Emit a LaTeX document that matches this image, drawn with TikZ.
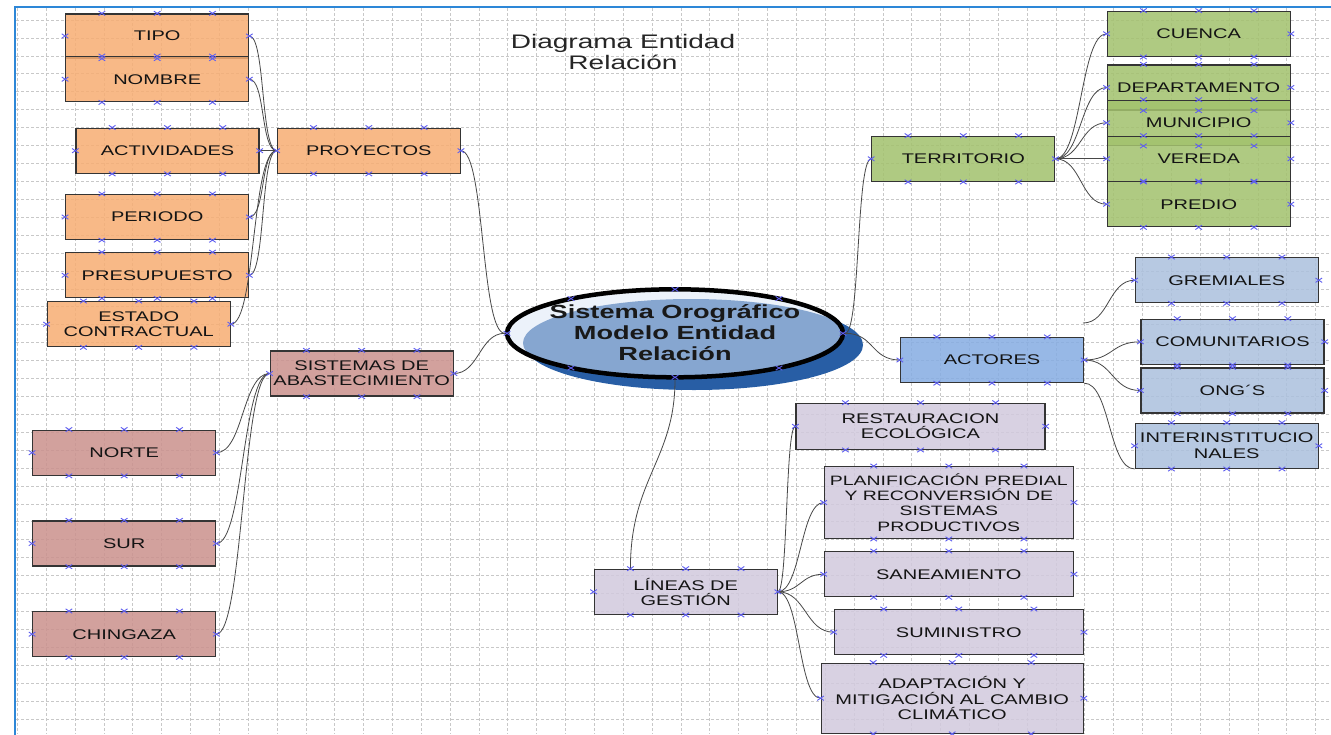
\documentclass[tikz,border=0pt]{standalone}
\usepackage{fontspec}
\setmainfont{Liberation Sans}[FakeStretch=1.43]
\usetikzlibrary{calc,shapes.geometric}

\definecolor{orangebox}{RGB}{247,174,116}
\definecolor{rosebox}{RGB}{203,146,142}
\definecolor{greenbox}{RGB}{163,194,110}
\definecolor{steelbox}{RGB}{172,193,222}
\definecolor{actorbox}{RGB}{134,173,226}
\definecolor{lilacbox}{RGB}{210,202,222}
\definecolor{edgegray}{RGB}{52,52,52}
\definecolor{cptblue}{RGB}{95,95,240}
\definecolor{framecol}{RGB}{45,135,215}
\definecolor{gridcol}{RGB}{200,200,200}
\definecolor{shadowblue}{RGB}{40,94,165}
\definecolor{coreblue}{RGB}{134,166,208}
\definecolor{corepale}{RGB}{236,242,250}

\tikzset{
  ent/.style={draw=edgegray, line width=1.3pt, fill opacity=0.86, text opacity=1,
    inner sep=0pt, minimum width=183pt, minimum height=45pt, align=center,
    font=\fontsize{14}{15.3}\selectfont, text=black!92},
  orng/.style={ent, fill=orangebox},
  rose/.style={ent, fill=rosebox},
  grn/.style={ent, fill=greenbox},
  stl/.style={ent, fill=steelbox},
  lil/.style={ent, fill=lilacbox},
  link/.style={draw=black!72, line width=0.8pt},
  gridline/.style={draw=gridcol, line width=0.6pt, dash pattern=on 3pt off 2pt},
  cpt/.pic={\draw[cptblue, line width=0.9pt] (-3.3,-2.2) -- (3.3,2.2) (-3.3,2.2) -- (3.3,-2.2);}
}

% connection points of a box: three on top, three on bottom, one on each side
\newcommand\markpts[1]{%
  \foreach \fr in {0.2,0.5,0.8}{%
    \path ($(#1.north west)!\fr!(#1.north east)$) pic{cpt};
    \path ($(#1.south west)!\fr!(#1.south east)$) pic{cpt};}
  \path (#1.west) pic{cpt};
  \path (#1.east) pic{cpt};}

% curved connector leaving and entering horizontally
\newcommand\hlink[3]{\draw[link] (#1) .. controls +(#3,0) and +(-#3,0) .. (#2);}

\begin{document}
\begin{tikzpicture}[x=1pt, y=-1pt]
\clip (0,0) rectangle (1331,734);
\fill[white] (0,0) rectangle (1331,734);

% background grid
\foreach \i [evaluate=\i as \gx using 17.3+28.85*\i] in {0,...,45}
  \draw[gridline] (\gx,8) -- (\gx,734);
\foreach \j [evaluate=\j as \gy using 20+17.92*\j] in {0,...,39}
  \draw[gridline] (16,\gy) -- (1331,\gy);

% frame
\draw[framecol, line width=2pt] (15,740) -- (15,7) -- (1340,7);

% title
\node[font=\fontsize{19.6}{20.6}\selectfont, align=center, text=black!85] (title) at (623,52) {Diagrama Entidad\\Relación};

% central entity
\fill[shadowblue] (694,345) ellipse [x radius=169, y radius=45];
\begin{scope}
  \clip (675,333.3) ellipse [x radius=168, y radius=44];
  \fill[corepale] (675,333.3) ellipse [x radius=168, y radius=44];
  \fill[coreblue] (691,343) ellipse [x radius=168, y radius=44];
\end{scope}
\node[ellipse, draw=black, line width=4.5pt, minimum width=336pt, minimum height=88pt, inner sep=0pt] (core) at (675,333.3) {};
\node[font=\bfseries\fontsize{19}{21}\selectfont, align=center, text=black!90] (coretext) at (675,332.5) {Sistema Orográfico\\Modelo Entidad\\Relación};

% projects
\node[orng, minimum height=44pt] (tipo) at (157.2,36) {TIPO};
\node[orng] (nombre) at (157.2,79.2) {NOMBRE};
\node[orng] (activ) at (167.5,150.7) {ACTIVIDADES};
\node[orng] (proy) at (368.8,150.7) {PROYECTOS};
\node[orng] (periodo) at (157.2,217) {PERIODO};
\node[orng] (presup) at (157.2,275.3) {PRESUPUESTO};
\node[orng] (estado) at (138.7,324.2) {ESTADO\\CONTRACTUAL};

% supply systems
\node[rose] (sist) at (361.7,373.5) {SISTEMAS DE\\ABASTECIMIENTO};
\node[rose] (norte) at (124.2,452.7) {NORTE};
\node[rose] (sur) at (124.2,543.5) {SUR};
\node[rose] (ching) at (124.2,634.2) {CHINGAZA};

% territory
\node[grn] (terr) at (963.3,158.8) {TERRITORIO};
\node[grn] (cuenca) at (1198.7,33.8) {CUENCA};
\node[grn] (depto) at (1198.7,87.5) {DEPARTAMENTO};
\node[grn] (muni) at (1198.7,122.8) {MUNICIPIO};
\node[grn] (vereda) at (1198.7,158.8) {VEREDA};
\node[grn] (predio) at (1198.7,204.2) {PREDIO};

% actors
\node[ent, fill=actorbox] (actores) at (992,360) {ACTORES};
\node[stl] (gremi) at (1226.7,280.2) {GREMIALES};
\node[stl] (comun) at (1232.5,341.8) {COMUNITARIOS};
\node[stl] (ong) at (1232.5,390.5) {ONG´S};
\node[stl] (inter) at (1226.7,445.8) {INTERINSTITUCIO\\NALES};
\coordinate (gremfree) at (1083,323);

% management lines
\node[lil] (lineas) at (685.7,591.8) {LÍNEAS DE\\GESTIÓN};
\node[lil, minimum width=249pt, minimum height=46pt] (resta) at (920.5,426.3) {RESTAURACION\\ECOLÓGICA};
\node[lil, minimum width=249pt, minimum height=71.6pt, font=\fontsize{13.6}{15.3}\selectfont] (plani) at (948.8,502.5) {PLANIFICACIÓN PREDIAL\\Y RECONVERSIÓN DE\\SISTEMAS\\PRODUCTIVOS};
\node[lil, minimum width=249pt] (sanea) at (948.8,574.2) {SANEAMIENTO};
\node[lil, minimum width=249pt] (sumin) at (958.8,632.2) {SUMINISTRO};
\node[lil, minimum width=262pt, minimum height=70pt] (adapt) at (952.2,698.2) {ADAPTACIÓN Y\\MITIGACIÓN AL CAMBIO\\CLIMÁTICO};
\coordinate (linup) at ($(lineas.north west)!0.2!(lineas.north east)$);

% connectors
\hlink{tipo.east}{proy.west}{16}
\hlink{nombre.east}{proy.west}{16}
\hlink{activ.east}{proy.west}{10}
\hlink{periodo.east}{proy.west}{16}
\hlink{presup.east}{proy.west}{16}
\hlink{estado.east}{proy.west}{25}
\hlink{proy.east}{core.west}{24}
\hlink{sist.east}{core.west}{25}
\hlink{norte.east}{sist.west}{27}
\hlink{sur.east}{sist.west}{27}
\hlink{ching.east}{sist.west}{27}
\hlink{core.east}{terr.west}{15}
\hlink{core.east}{actores.west}{29}
\hlink{terr.east}{cuenca.west}{26}
\hlink{terr.east}{depto.west}{26}
\hlink{terr.east}{muni.west}{26}
\hlink{terr.east}{vereda.west}{26}
\hlink{terr.east}{predio.west}{26}
\hlink{gremfree}{gremi.west}{26}
\hlink{actores.east}{comun.west}{29}
\hlink{actores.east}{ong.west}{29}
\hlink{actores.south east}{inter.south west}{26}
\hlink{lineas.east}{resta.west}{10}
\hlink{lineas.east}{plani.west}{23}
\hlink{lineas.east}{sanea.west}{23}
\hlink{lineas.east}{sumin.west}{28}
\hlink{lineas.east}{adapt.west}{22}
\draw[link] (linup) .. controls +(0,-90) and +(0,80) .. (core.south);

% connection points
\foreach \n in {tipo,nombre,activ,proy,periodo,presup,estado,sist,norte,sur,ching,
  terr,cuenca,depto,muni,vereda,predio,actores,gremi,comun,ong,inter,
  lineas,resta,plani,sanea,sumin,adapt}{\markpts{\n}}
\foreach \p in {(571,298.6),(779,298.6),(571,368),(779,368),(675,289.3),(675,377.3),(507,333.3),(843,333.3)}
  \path \p pic{cpt};
\end{tikzpicture}
\end{document}
